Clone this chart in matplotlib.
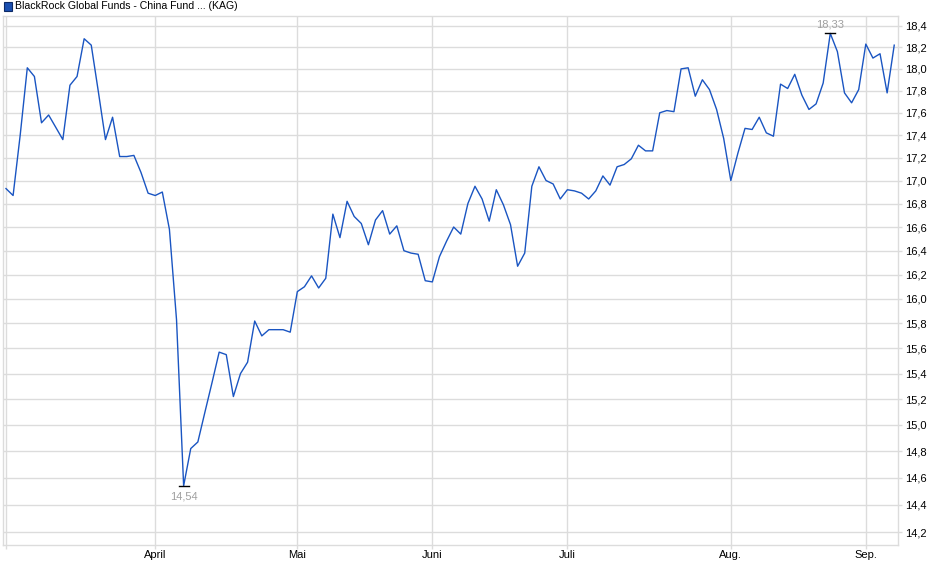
import numpy as np
import matplotlib
matplotlib.use("Agg")
import matplotlib.pyplot as plt
from matplotlib.ticker import NullLocator

plt.rcParams['font.family'] = ['Liberation Sans', 'DejaVu Sans']

# fund price, one value per trading day (Mar - Sep)
prices = [
    16.93, 16.87, 17.40, 18.01, 17.93, 17.51, 17.58, 17.47, 17.36, 17.85,
    17.93, 18.28, 18.22, 17.79, 17.36, 17.56, 17.21, 17.21, 17.22, 17.07,
    16.89, 16.87, 16.90, 16.58, 15.83, 14.54, 14.82, 14.87, 15.10, 15.33,
    15.57, 15.55, 15.22, 15.40, 15.49, 15.82, 15.70, 15.75, 15.75, 15.75,
    15.73, 16.06, 16.10, 16.19, 16.09, 16.17, 16.71, 16.51, 16.82, 16.69,
    16.63, 16.45, 16.66, 16.74, 16.54, 16.61, 16.40, 16.38, 16.37, 16.15,
    16.14, 16.35, 16.48, 16.60, 16.54, 16.80, 16.95, 16.84, 16.65, 16.92,
    16.79, 16.62, 16.27, 16.38, 16.95, 17.12, 17.00, 16.97, 16.84, 16.92,
    16.91, 16.89, 16.84, 16.91, 17.04, 16.96, 17.12, 17.14, 17.19, 17.31,
    17.26, 17.26, 17.60, 17.62, 17.61, 18.00, 18.01, 17.75, 17.90, 17.81,
    17.63, 17.37, 17.00, 17.24, 17.46, 17.45, 17.56, 17.42, 17.39, 17.86,
    17.82, 17.95, 17.76, 17.63, 17.68, 17.87, 18.33, 18.16, 17.78, 17.69,
    17.81, 18.23, 18.10, 18.14, 17.78, 18.22,
]

# first trading day of each month (index into prices)
month_idx = [0, 21, 41, 60, 79, 102, 121]
month_labels = ['', 'April', 'Mai', 'Juni', 'Juli', 'Aug.', 'Sep.']

yticks = [14.2, 14.4, 14.6, 14.8, 15.0, 15.2, 15.4, 15.6, 15.8, 16.0, 16.2,
          16.4, 16.6, 16.8, 17.0, 17.2, 17.4, 17.6, 17.8, 18.0, 18.2, 18.4]

title = 'BlackRock Global Funds - China Fund ... (KAG)'

line_col = '#1a55c2'
grid_col = '#dcdcdc'

fig = plt.figure(figsize=(9.4, 5.79), dpi=100)
ax = fig.add_axes([3 / 940, 34 / 579, 895 / 940, 529 / 579])

x = np.arange(len(prices))
ax.plot(x, prices, color=line_col, lw=1.0, zorder=3)

ax.set_yscale('log')
ax.set_ylim(14.106, 18.494)
ax.set_xlim(-0.42, 125.53)

ax.set_yticks(yticks)
ax.set_yticklabels([('%.1f' % v).replace('.', ',') for v in yticks])
ax.yaxis.set_minor_locator(NullLocator())
ax.yaxis.tick_right()
ax.set_xticks(month_idx)
ax.set_xticklabels(month_labels)
ax.xaxis.set_minor_locator(NullLocator())

ax.grid(True, color=grid_col, lw=1.0, zorder=0)
ax.tick_params(axis='both', colors=grid_col, labelcolor='#000000',
               labelsize=8, length=3, width=1.0, pad=2)
ax.tick_params(axis='x', pad=0.5)
for s in ax.spines.values():
    s.set_color(grid_col)
    s.set_linewidth(1.0)

# min / max markers
imin = int(np.argmin(prices))
imax = int(np.argmax(prices))
ax.plot([imin - 0.7, imin + 0.7], [prices[imin]] * 2, color='black', lw=1.0, zorder=4)
ax.plot([imax - 0.7, imax + 0.7], [prices[imax]] * 2, color='black', lw=1.0, zorder=4)
ax.annotate(('%.2f' % prices[imin]).replace('.', ','), (imin, prices[imin]),
            xytext=(0, -4), textcoords='offset points', ha='center', va='top',
            fontsize=8, color='#a0a0a0')
ax.annotate(('%.2f' % prices[imax]).replace('.', ','), (imax, prices[imax]),
            xytext=(0, 3), textcoords='offset points', ha='center', va='bottom',
            fontsize=8, color='#a0a0a0')

# legend box at top
fig.patches.append(plt.Rectangle((4 / 940, 1 - 11 / 579), 8 / 940, 9 / 579,
                                 transform=fig.transFigure, facecolor='#1a4fb0',
                                 edgecolor='#0d2a66', lw=0.8))
fig.text(15 / 940, 1 - 6 / 579, title, fontsize=7.6, va='center', ha='left', color='#000000')

fig.savefig('out.png', dpi=100)
